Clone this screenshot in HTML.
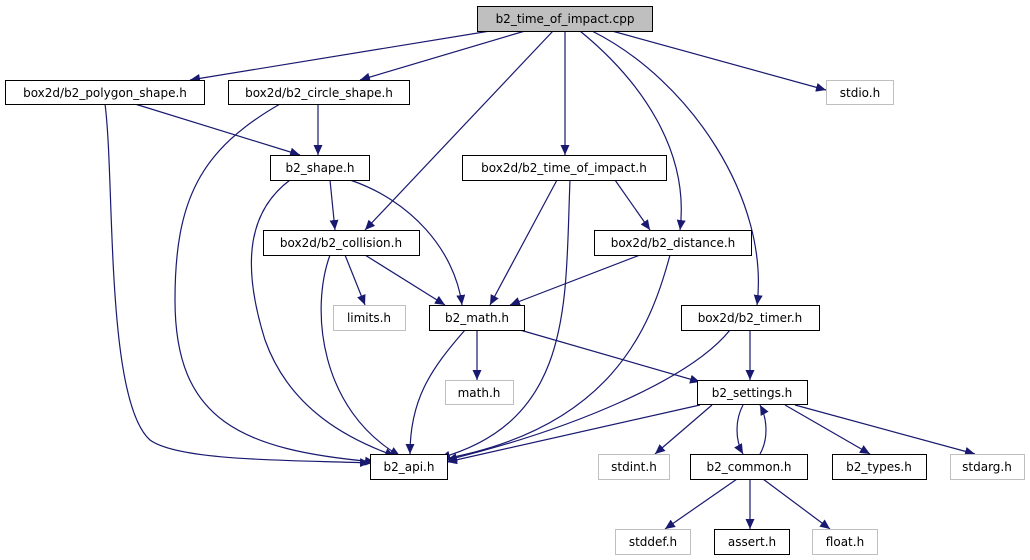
<!DOCTYPE html>
<html><head><meta charset="utf-8"><style>
html,body{margin:0;padding:0;background:#fff;}
svg{display:block;}
text{font-family:"DejaVu Sans","Liberation Sans",sans-serif;font-size:12px;fill:#000;}
</style></head><body>
<svg width="1030" height="560" viewBox="0 0 1030 560" xmlns="http://www.w3.org/2000/svg">
<defs>
<marker id="a" markerWidth="11" markerHeight="9" refX="10" refY="4.5" orient="auto" markerUnits="userSpaceOnUse">
<path d="M0,0 L10,4.5 L0,9 Z" fill="#191970"/>
</marker>
</defs>
<g fill="none" stroke="#191970" stroke-width="1.2" marker-end="url(#a)">
<path d="M490,31 L190,80"/>
<path d="M525,31 L360,80"/>
<path d="M553,31 L365,230"/>
<path d="M565,31 L565,155"/>
<path d="M580,31 C640,80 690,150 680,230"/>
<path d="M592,31 C690,80 770,200 757,305"/>
<path d="M612,31 L826,90"/>
<path d="M135,104 L300,155"/>
<path d="M105,104 C115,180 105,400 150,440 C180,462 300,460 370,463"/>
<path d="M318,104 L318,155"/>
<path d="M280,104 C200,150 175,200 175,300 C175,420 240,450 375,462"/>
<path d="M330,180 L335,230"/>
<path d="M350,180 C410,200 455,250 462,305"/>
<path d="M290,180 C250,210 240,260 265,340 C290,410 350,440 395,456"/>
<path d="M345,255 L365,305"/>
<path d="M365,255 L445,305"/>
<path d="M330,255 C310,310 320,410 400,456"/>
<path d="M557,180 L490,305"/>
<path d="M570,180 C565,300 575,420 440,458"/>
<path d="M615,180 L650,230"/>
<path d="M640,255 L510,305"/>
<path d="M670,255 C650,330 610,430 438,460"/>
<path d="M477,330 L477,380"/>
<path d="M465,330 C430,370 410,400 410,454"/>
<path d="M520,330 L700,382"/>
<path d="M750,330 L750,380"/>
<path d="M730,330 C690,380 570,430 447,460"/>
<path d="M700,405 L447,462"/>
<path d="M712,405 L655,454"/>
<path d="M743,405 C735,420 735,440 743,454"/>
<path d="M760,454 C768,440 768,420 760,405"/>
<path d="M785,405 L870,454"/>
<path d="M795,405 L975,454"/>
<path d="M737,479 L665,529"/>
<path d="M750,479 L750,529"/>
<path d="M763,479 L830,529"/>
</g>
<g stroke-width="1" >
<rect x="477.5" y="6.5" width="175" height="25" fill="#bfbfbf" stroke="#000"/>
<rect x="5.5" y="80.5" width="199" height="24" fill="#fff" stroke="#000"/>
<rect x="228.5" y="80.5" width="181" height="24" fill="#fff" stroke="#000"/>
<rect x="826.5" y="80.5" width="67" height="24" fill="#fff" stroke="#bfbfbf"/>
<rect x="270.5" y="155.5" width="99" height="25" fill="#fff" stroke="#000"/>
<rect x="462.5" y="155.5" width="204" height="25" fill="#fff" stroke="#000"/>
<rect x="263.5" y="230.5" width="156" height="25" fill="#fff" stroke="#000"/>
<rect x="594.5" y="230.5" width="157" height="25" fill="#fff" stroke="#000"/>
<rect x="333.5" y="305.5" width="72" height="25" fill="#fff" stroke="#bfbfbf"/>
<rect x="429.5" y="305.5" width="95" height="25" fill="#fff" stroke="#000"/>
<rect x="681.5" y="305.5" width="138" height="25" fill="#fff" stroke="#000"/>
<rect x="445.5" y="380.5" width="68" height="24" fill="#fff" stroke="#bfbfbf"/>
<rect x="697.5" y="380.5" width="110" height="24" fill="#fff" stroke="#000"/>
<rect x="370.5" y="454.5" width="77" height="25" fill="#fff" stroke="#000"/>
<rect x="598.5" y="454.5" width="71" height="25" fill="#fff" stroke="#bfbfbf"/>
<rect x="690.5" y="454.5" width="117" height="25" fill="#fff" stroke="#000"/>
<rect x="832.5" y="454.5" width="94" height="25" fill="#fff" stroke="#000"/>
<rect x="950.5" y="454.5" width="74" height="25" fill="#fff" stroke="#bfbfbf"/>
<rect x="615.5" y="529.5" width="75" height="25" fill="#fff" stroke="#bfbfbf"/>
<rect x="714.5" y="529.5" width="75" height="25" fill="#fff" stroke="#000"/>
<rect x="812.5" y="529.5" width="65" height="25" fill="#fff" stroke="#bfbfbf"/>
</g>
<g text-anchor="middle">
<text x="565" y="23">b2_time_of_impact.cpp</text>
<text x="105" y="97">box2d/b2_polygon_shape.h</text>
<text x="319" y="97">box2d/b2_circle_shape.h</text>
<text x="860" y="97">stdio.h</text>
<text x="320" y="172">b2_shape.h</text>
<text x="564" y="172">box2d/b2_time_of_impact.h</text>
<text x="341" y="247">box2d/b2_collision.h</text>
<text x="673" y="247">box2d/b2_distance.h</text>
<text x="369" y="322">limits.h</text>
<text x="477" y="322">b2_math.h</text>
<text x="750" y="322">box2d/b2_timer.h</text>
<text x="479" y="397">math.h</text>
<text x="752" y="397">b2_settings.h</text>
<text x="409" y="471">b2_api.h</text>
<text x="634" y="471">stdint.h</text>
<text x="749" y="471">b2_common.h</text>
<text x="879" y="471">b2_types.h</text>
<text x="987" y="471">stdarg.h</text>
<text x="653" y="546">stddef.h</text>
<text x="752" y="546">assert.h</text>
<text x="845" y="546">float.h</text>
</g>
</svg>
</body></html>
